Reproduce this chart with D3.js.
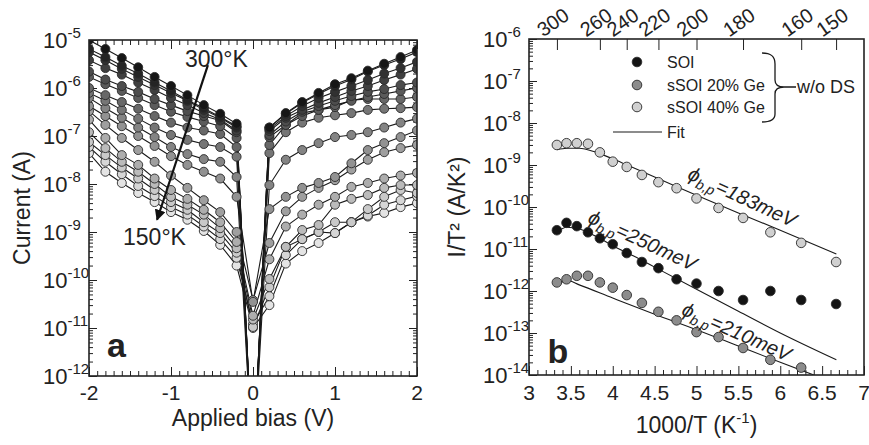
<!DOCTYPE html>
<html><head><meta charset="utf-8">
<script src="https://cdn.jsdelivr.net/npm/d3@7"></script>
<style>
body{margin:0;background:#fff}
svg{display:block}
text{font-family:"Liberation Sans",Arial,Helvetica,sans-serif;fill:#222}
</style></head><body>
<svg id="chart" width="869" height="445"></svg>
<script>
// ---------- Panel a data: current (A) vs applied bias (V), one curve per temperature ----------
const biasV = [-2,-1.8,-1.6,-1.4,-1.2,-1,-0.8,-0.6,-0.4,-0.2,0,0.2,0.4,0.6,0.8,1,1.2,1.4,1.6,1.8,2];
const tempsA = [300,290,280,270,260,250,240,230,220,210,200,190,180,170,160,150];
const I_300K = [1.0e-5,6.5e-6,4.2e-6,2.7e-6,1.7e-6,1.1e-6,7.1e-7,4.4e-7,2.9e-7,1.8e-7,1e-14,1.5e-7,3.0e-7,5.1e-7,7.9e-7,1.2e-6,1.6e-6,2.3e-6,3.2e-6,4.4e-6,6.2e-6];
const I_290K = [6.5e-6,4.4e-6,2.9e-6,2.0e-6,1.3e-6,8.7e-7,5.6e-7,3.8e-7,2.5e-7,1.6e-7,1e-14,1.5e-7,2.9e-7,4.9e-7,7.5e-7,1.1e-6,1.5e-6,2.2e-6,3.0e-6,4.0e-6,5.6e-6];
const I_280K = [5.6e-6,3.8e-6,2.5e-6,1.7e-6,1.15e-6,7.9e-7,5.4e-7,3.5e-7,2.4e-7,1.5e-7,1e-14,1.4e-7,2.6e-7,4.2e-7,6.2e-7,8.3e-7,1.1e-6,1.47e-6,2.0e-6,2.6e-6,3.5e-6];
const I_270K = [3.8e-6,2.6e-6,1.9e-6,1.3e-6,9.1e-7,6.2e-7,4.4e-7,3.0e-7,2.2e-7,1.3e-7,1e-14,1.27e-7,2.4e-7,3.5e-7,4.9e-7,6.5e-7,8.7e-7,1.1e-6,1.47e-6,1.9e-6,2.5e-6];
const I_260K = [2.2e-6,1.5e-6,1.1e-6,8.3e-7,5.9e-7,4.4e-7,3.3e-7,2.6e-7,2.1e-7,1.2e-7,1e-14,1.05e-7,2.0e-7,3.2e-7,4.2e-7,5.4e-7,6.8e-7,8.3e-7,9.5e-7,1.15e-6,1.3e-6];
const I_250K = [1.7e-6,1.2e-6,8.7e-7,6.2e-7,4.4e-7,3.2e-7,2.5e-7,2.0e-7,1.6e-7,9.1e-8,1e-14,9.5e-8,1.7e-7,2.6e-7,3.5e-7,4.4e-7,5.4e-7,6.5e-7,7.5e-7,8.7e-7,1.0e-6];
const I_240K = [1.0e-6,7.1e-7,5.1e-7,3.7e-7,2.6e-7,1.9e-7,1.5e-7,1.3e-7,1.1e-7,5.9e-8,1e-14,6.5e-8,1.7e-7,3.0e-7,3.5e-7,4.0e-7,5.6e-7,5.9e-7,5.9e-7,5.9e-7,6.5e-7];
const I_230K = [7.9e-7,5.4e-7,3.5e-7,2.3e-7,1.5e-7,1.05e-7,8.3e-8,6.8e-8,5.9e-8,3.7e-8,1e-14,4.4e-8,1.2e-7,1.9e-7,2.4e-7,2.7e-7,3.0e-7,3.5e-7,3.7e-7,3.8e-7,4.0e-7];
const I_220K = [6.2e-7,3.8e-7,2.4e-7,1.5e-7,9.5e-8,5.9e-8,4.2e-8,3.3e-8,2.9e-8,1.4e-8,1e-14,9.5e-9,3.2e-8,5.1e-8,7.1e-8,9.5e-8,1.05e-7,1.2e-7,1.5e-7,1.9e-7,2.3e-7];
const I_210K = [4.2e-7,2.6e-7,1.6e-7,1.0e-7,6.2e-8,3.8e-8,2.5e-8,1.8e-8,1.3e-8,5.4e-9,3.5e-11,3.0e-9,5.4e-9,8.3e-9,1.05e-8,1.4e-8,2.7e-8,5.1e-8,7.1e-8,9.5e-8,1.3e-7];
const I_200K = [3.3e-7,1.7e-7,9.1e-8,5.1e-8,2.9e-8,1.5e-8,8.3e-9,4.6e-9,2.6e-9,1.0e-9,3.8e-11,5.9e-10,2.7e-9,5.4e-9,8.3e-9,1.2e-8,2.0e-8,3.2e-8,4.6e-8,5.6e-8,6.5e-8];
const I_190K = [2.2e-7,9.1e-8,4.0e-8,2.5e-8,1.3e-8,7.5e-9,4.9e-9,2.9e-9,1.6e-9,6.2e-10,1.8e-11,2.7e-10,1.3e-9,2.3e-9,3.7e-9,5.4e-9,8.7e-9,1.05e-8,1.3e-8,1.5e-8,1.7e-8];
const I_180K = [1.2e-7,5.6e-8,2.9e-8,1.8e-8,1.0e-8,5.4e-9,3.7e-9,2.3e-9,1.2e-9,4.6e-10,1.5e-11,1.05e-10,4.9e-10,1.1e-9,1.4e-9,3.7e-9,4.9e-9,5.9e-9,8.3e-9,9.5e-9,9.5e-9];
const I_170K = [7.5e-8,4.0e-8,2.2e-8,1.3e-8,7.5e-9,4.2e-9,2.9e-9,1.6e-9,9.5e-10,3.7e-10,1.05e-11,7.1e-11,4.9e-10,7.1e-10,1.0e-9,1.6e-9,1.6e-9,3.0e-9,5.4e-9,7.5e-9,6.5e-9];
const I_160K = [5.9e-8,2.9e-8,1.6e-8,9.1e-9,5.6e-9,3.3e-9,2.3e-9,1.3e-9,7.1e-10,2.9e-10,1.2e-11,4.6e-11,3.3e-10,7.1e-10,1.0e-9,9.5e-10,1.6e-9,2.2e-9,3.7e-9,4.6e-9,5.6e-9];
const I_150K = [4.4e-8,1.8e-8,1.05e-8,6.5e-9,4.2e-9,2.6e-9,1.8e-9,1.05e-9,5.4e-10,2.0e-10,1.0e-11,3.0e-11,2.2e-10,4.0e-10,5.9e-10,9.5e-10,1.6e-9,2.1e-9,2.5e-9,3.3e-9,4.0e-9];
const curvesA = [I_300K,I_290K,I_280K,I_270K,I_260K,I_250K,I_240K,I_230K,I_220K,I_210K,I_200K,I_190K,I_180K,I_170K,I_160K,I_150K];
const biasTickLabels = [-2,-1,0,1,2];
const decadesA = [-12,-11,-10,-9,-8,-7,-6,-5];

// ---------- Panel b data: I/T^2 (A/K^2) vs 1000/T ----------
const tempsB = [300,290,280,270,260,250,240,230,220,210,200,190,180,170,160,150];
const invT = [3.333,3.448,3.571,3.704,3.846,4.0,4.167,4.348,4.545,4.762,5.0,5.263,5.556,5.882,6.25,6.667];
const soi    = [2.8e-11,4.2e-11,3.5e-11,2.5e-11,1.8e-11,1.3e-11,8.0e-12,4.9e-12,3.5e-12,1.9e-12,1.5e-12,1.0e-12,6.1e-13,1.0e-12,6.1e-13,4.9e-13];
const ssoi20 = [1.6e-12,1.9e-12,2.3e-12,2.3e-12,1.6e-12,1.2e-12,8.0e-13,5.2e-13,3.2e-13,2.0e-13,1.05e-13,8.0e-14,4.4e-14,2.3e-14,1.5e-14,null];
const ssoi40 = [3.0e-9,3.3e-9,3.3e-9,3.2e-9,2.0e-9,1.2e-9,9.0e-10,5.8e-10,3.9e-10,2.8e-10,1.6e-10,9.5e-11,5.5e-11,2.5e-11,1.4e-11,4.9e-12];
const fitX40  = [3.333,3.45,3.6,3.8,4.0,4.17,4.5,5.0,5.5,6.0,6.67];
const fit40   = [2.3e-9,2.5e-9,2.5e-9,2.0e-9,1.4e-9,1.0e-9,5.2e-10,1.9e-10,7.2e-11,2.8e-11,7.6e-12];
const fitXSOI = [3.333,3.45,3.6,3.8,4.0,4.25,4.5,5.0,5.5,6.0,6.67];
const fitSOI  = [2.5e-11,3.3e-11,3.0e-11,2.0e-11,1.2e-11,6.8e-12,3.7e-12,1.1e-12,3.3e-13,1.0e-13,2.3e-14];
const fitX20  = [3.333,3.45,3.6,4.0,4.5,5.0,5.5,6.0,6.4];
const fit20   = [1.3e-12,1.8e-12,1.4e-12,6.8e-13,2.8e-13,1.2e-13,4.9e-14,2.0e-14,1.0e-14];
const legendLabels = ["SOI","sSOI 20% Ge","sSOI 40% Ge"];
const topTempTicks = [300,260,240,220,200,180,160,150];
const invTTickLabels = [3,3.5,4,4.5,5,5.5,6,6.5,7];
const decadesB = [-14,-13,-12,-11,-10,-9,-8,-7,-6];

// ---------- drawing ----------
const svg = d3.select("#chart");
const defs = svg.append("defs");
const INK = "#222";

function minorsLog(e0, e1){ const o=[]; for(let e=e0;e<e1;e++) for(let k=2;k<=9;k++) o.push(k*Math.pow(10,e)); return o; }
function styleAxis(g){ g.select(".domain").remove(); g.selectAll("line").attr("stroke",INK).attr("stroke-width",1); g.selectAll("text").remove(); }
function powLabel(g, x, y, exp){
  const t = g.append("text").attr("x",x).attr("y",y).attr("font-size",22);
  t.append("tspan").text("10");
  t.append("tspan").attr("font-size",15).attr("dy",-10).text(String(exp));
}

// ===== Panel a =====
const xA = d3.scaleLinear().domain([-2,2]).range([89,417]);
const yA = d3.scaleLog().domain([1e-12,1e-5]).range([376,40]);
defs.append("clipPath").attr("id","clipA").append("rect")
  .attr("x",xA(-2)).attr("y",yA(1e-5)).attr("width",xA(2)-xA(-2)).attr("height",yA(1e-12)-yA(1e-5));
const gA = svg.append("g");
const minorBias = d3.range(-20,21).filter(d=>d%10!==0).map(d=>d/10);
const decValsA = decadesA.map(e=>Math.pow(10,e));
gA.append("g").attr("transform",`translate(0,${yA(1e-12)})`).call(d3.axisBottom(xA).tickValues(minorBias).tickSize(-5)).call(styleAxis);
gA.append("g").attr("transform",`translate(0,${yA(1e-12)})`).call(d3.axisBottom(xA).tickValues(biasTickLabels).tickSize(-9)).call(styleAxis);
gA.append("g").attr("transform",`translate(0,${yA(1e-5)})`).call(d3.axisTop(xA).tickValues(minorBias).tickSize(-5)).call(styleAxis);
gA.append("g").attr("transform",`translate(0,${yA(1e-5)})`).call(d3.axisTop(xA).tickValues(biasTickLabels).tickSize(-9)).call(styleAxis);
gA.append("g").attr("transform",`translate(${xA(-2)},0)`).call(d3.axisLeft(yA).tickValues(decValsA).tickSize(-8)).call(styleAxis);
gA.append("g").attr("transform",`translate(${xA(-2)},0)`).call(d3.axisLeft(yA).tickValues(minorsLog(-12,-5)).tickSize(-4)).call(styleAxis);
gA.append("g").attr("transform",`translate(${xA(2)},0)`).call(d3.axisRight(yA).tickValues(decValsA).tickSize(-8)).call(styleAxis);
gA.append("g").attr("transform",`translate(${xA(2)},0)`).call(d3.axisRight(yA).tickValues(minorsLog(-12,-5)).tickSize(-4)).call(styleAxis);

const plotA = gA.append("g").attr("clip-path","url(#clipA)");
const lineA = d3.line().x((d,i)=>xA(biasV[i])).y(d=>yA(d));
curvesA.forEach(c=>{
  plotA.append("path").attr("d",lineA(c)).attr("fill","none").attr("stroke","#1a1a1a").attr("stroke-width",1.1);
});
const shade = d3.interpolateRgb("#161616","#e4e4e4");
for(let i=curvesA.length-1;i>=0;i--){
  plotA.append("g").selectAll("circle").data(curvesA[i]).join("circle")
    .attr("cx",(d,j)=>xA(biasV[j])).attr("cy",d=>yA(d)).attr("r",4.5)
    .attr("fill",shade(i/(curvesA.length-1))).attr("stroke","#2a2a2a").attr("stroke-width",0.9);
}
gA.append("rect").attr("x",xA(-2)).attr("y",yA(1e-5)).attr("width",xA(2)-xA(-2)).attr("height",yA(1e-12)-yA(1e-5))
  .attr("fill","none").attr("stroke",INK).attr("stroke-width",1.6);

biasTickLabels.forEach(v=>{
  gA.append("text").attr("x",xA(v)).attr("y",400).attr("text-anchor","middle").attr("font-size",21).text(String(v));
});
decadesA.forEach(e=>powLabel(gA,43,yA(Math.pow(10,e))+8,e));
gA.append("text").attr("transform",`translate(30,${(yA(1e-5)+yA(1e-12))/2}) rotate(-90)`).attr("text-anchor","middle").attr("font-size",23).text("Current (A)");
gA.append("text").attr("x",xA(0)).attr("y",426).attr("text-anchor","middle").attr("font-size",23).text("Applied bias (V)");
gA.append("text").attr("x",xA(-1.78)).attr("y",yA(1e-12)-19).attr("font-size",34).attr("font-weight","bold").text("a");
// temperature arrow annotation
defs.append("marker").attr("id","arrowHead").attr("viewBox","0 0 10 10").attr("refX",9).attr("refY",5)
  .attr("markerWidth",5).attr("markerHeight",5).attr("orient","auto")
  .append("path").attr("d","M0,0 L10,5 L0,10 z").attr("fill","#111");
gA.append("line").attr("x1",xA(-0.55)).attr("y1",yA(3.0e-6)).attr("x2",xA(-1.17)).attr("y2",yA(1.8e-9))
  .attr("stroke","#111").attr("stroke-width",2.2).attr("marker-end","url(#arrowHead)");
gA.append("text").attr("x",xA(-0.83)).attr("y",yA(2.7e-6)).attr("font-size",23).text("300°K");
gA.append("text").attr("x",xA(-1.585)).attr("y",yA(5.4e-10)).attr("font-size",23).text("150°K");

// ===== Panel b =====
const xB = d3.scaleLinear().domain([3,7]).range([529,864]);
const yB = d3.scaleLog().domain([1e-14,1e-6]).range([375,39]);
defs.append("clipPath").attr("id","clipB").append("rect")
  .attr("x",xB(3)).attr("y",yB(1e-6)).attr("width",xB(7)-xB(3)).attr("height",yB(1e-14)-yB(1e-6));
const gB = svg.append("g");
const minorInv = d3.range(30,71).filter(d=>d%5!==0).map(d=>d/10);
const decValsB = decadesB.map(e=>Math.pow(10,e));
gB.append("g").attr("transform",`translate(0,${yB(1e-14)})`).call(d3.axisBottom(xB).tickValues(minorInv).tickSize(-5)).call(styleAxis);
gB.append("g").attr("transform",`translate(0,${yB(1e-14)})`).call(d3.axisBottom(xB).tickValues(invTTickLabels).tickSize(-9)).call(styleAxis);
gB.append("g").attr("transform",`translate(${xB(3)},0)`).call(d3.axisLeft(yB).tickValues(decValsB).tickSize(-8)).call(styleAxis);
gB.append("g").attr("transform",`translate(${xB(3)},0)`).call(d3.axisLeft(yB).tickValues(minorsLog(-14,-6)).tickSize(-4)).call(styleAxis);
gB.append("g").attr("transform",`translate(0,${yB(1e-6)})`).call(d3.axisTop(xB).tickValues(topTempTicks.map(t=>1000/t)).tickSize(-11)).call(styleAxis);
gB.selectAll("line").attr("stroke-width",1);

const plotB = gB.append("g").attr("clip-path","url(#clipB)");
const fitLine = xs => d3.line().curve(d3.curveMonotoneX).x((d,i)=>xB(xs[i])).y(d=>yB(d));
[[fitX40,fit40],[fitXSOI,fitSOI],[fitX20,fit20]].forEach(([xs,ys])=>{
  plotB.append("path").attr("d",fitLine(xs)(ys)).attr("fill","none").attr("stroke","#1a1a1a").attr("stroke-width",1.1);
});
const seriesB = [{v:soi,c:"#141414"},{v:ssoi20,c:"#8c8c8c"},{v:ssoi40,c:"#d0d0d0"}];
seriesB.forEach(s=>{
  plotB.append("g").selectAll("circle").data(s.v.map((d,i)=>({x:invT[i],y:d})).filter(d=>d.y!=null)).join("circle")
    .attr("cx",d=>xB(d.x)).attr("cy",d=>yB(d.y)).attr("r",4.8)
    .attr("fill",s.c).attr("stroke","#2a2a2a").attr("stroke-width",0.9);
});
gB.append("rect").attr("x",xB(3)).attr("y",yB(1e-6)).attr("width",xB(7)-xB(3)).attr("height",yB(1e-14)-yB(1e-6))
  .attr("fill","none").attr("stroke",INK).attr("stroke-width",1.6);

invTTickLabels.forEach(v=>{
  gB.append("text").attr("x",xB(v)).attr("y",400).attr("text-anchor","middle").attr("font-size",21).text(String(v));
});
topTempTicks.forEach(t=>{
  gB.append("text").attr("transform",`translate(${xB(1000/t)},${yB(1e-6)-11}) rotate(-35)`).attr("text-anchor","middle").attr("font-size",20).text(String(t));
});
decadesB.forEach(e=>powLabel(gB,483,yB(Math.pow(10,e))+8,e));
gB.append("text").attr("transform",`translate(465,${(yB(1e-6)+yB(1e-14))/2}) rotate(-90)`).attr("text-anchor","middle").attr("font-size",23).text("I/T² (A/K²)");
const xl = gB.append("text").attr("x",(xB(3)+xB(7))/2).attr("y",433).attr("text-anchor","middle").attr("font-size",23);
xl.append("tspan").text("1000/T (K");
xl.append("tspan").attr("font-size",15).attr("dy",-10).text("-1");
xl.append("tspan").attr("dy",10).text(")");
gB.append("text").attr("x",xB(3.22)).attr("y",yB(1e-14)-12).attr("font-size",34).attr("font-weight","bold").text("b");

// legend
const legY = [62,85,107];
seriesB.forEach((s,i)=>{
  gB.append("circle").attr("cx",637).attr("cy",legY[i]).attr("r",4.8).attr("fill",s.c).attr("stroke","#2a2a2a").attr("stroke-width",0.9);
  gB.append("text").attr("x",667).attr("y",legY[i]+6).attr("font-size",16).text(legendLabels[i]);
});
gB.append("line").attr("x1",613).attr("x2",662).attr("y1",132).attr("y2",132).attr("stroke","#1a1a1a").attr("stroke-width",1.1);
gB.append("text").attr("x",667).attr("y",138).attr("font-size",16).text("Fit");
gB.append("path").attr("d","M762,53 C771,53 775,56 775,64 L775,80 C775,85 778,87 784,87 C778,87 775,89 775,94 L775,114 C775,119 771,122 762,122 M784,87 L796,87")
  .attr("fill","none").attr("stroke","#1a1a1a").attr("stroke-width",1.3);
gB.append("text").attr("x",797).attr("y",93).attr("font-size",18).text("w/o DS");

// barrier annotations
function phiLabel(x,y,ang,val){
  const t = gB.append("text").attr("transform",`translate(${x},${y}) rotate(${ang})`).attr("font-size",20).attr("font-style","italic");
  t.append("tspan").text("ϕ");
  t.append("tspan").attr("font-size",14).attr("dy",5).text("b,p");
  t.append("tspan").attr("dy",-5).text("="+val+"meV");
}
phiLabel(xB(4.88),yB(4.8e-10),25,"183");
phiLabel(xB(3.69),yB(4.4e-11),25,"250");
phiLabel(xB(4.81),yB(2.8e-13),24,"210");
</script>
</body></html>
